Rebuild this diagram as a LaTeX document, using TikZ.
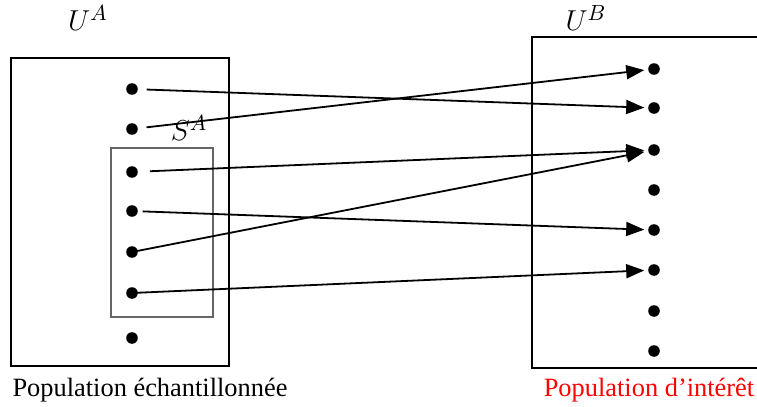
\documentclass[tikz,border=0pt]{standalone}
\usepackage{fontspec}
\setmainfont{Liberation Serif}
\usetikzlibrary{arrows.meta}

\begin{document}
\begin{tikzpicture}[x=0.5pt, y=-0.5pt, every node/.style={font=\fontsize{13.2}{15}\selectfont},
		dot/.style={circle, fill=black, inner sep=0pt, minimum size=5.8pt},
		setname/.style={font=\fontsize{15}{18}\selectfont},
		link/.style={-{Triangle[length=9pt,width=7pt]}, line width=0.9pt, shorten >=1.8pt}]
	\useasboundingbox (0,0) rectangle (757,407);
	\clip (0,0) rectangle (757,407);
	% boxes
	\draw[line width=1pt] (11,58) rectangle (229,366);
	\draw[line width=0.9pt, black!60] (111,148) rectangle (213,317);
	\draw[line width=1pt] (532,37) rectangle (790,368);
	% dots
	\foreach \y [count=\i] in {89,129,172,211,252,293,338}
		\node[dot] (a\i) at (132,\y) {};
	\foreach \y [count=\i] in {69,108,150,190,230,270,311,351}
		\node[dot] (b\i) at (654,\y) {};
	% labels
	\node[setname] (ua) at (88,18) {$U^A$};
	\node[setname] (ub) at (586,18) {$U^B$};
	\node[setname] (sa) at (189,128) {$S^A$};
	\node (popa) at (150,390) {Population échantillonnée};
	\node[red] (popb) at (649,390) {Population d’intérêt};
	% links
	\draw[link, shorten <=4.2pt] (a1) -- (b2);
	\draw[link, shorten <=4.2pt] (a2) -- (b1);
	\draw[link, shorten <=5.8pt] (a3) -- (b3);
	\draw[link, shorten <=2.2pt] (a4) -- (b5);
	\draw[link] (a5.center) -- (b3);
	\draw[link] (a6.center) -- (b6);
\end{tikzpicture}
\end{document}
